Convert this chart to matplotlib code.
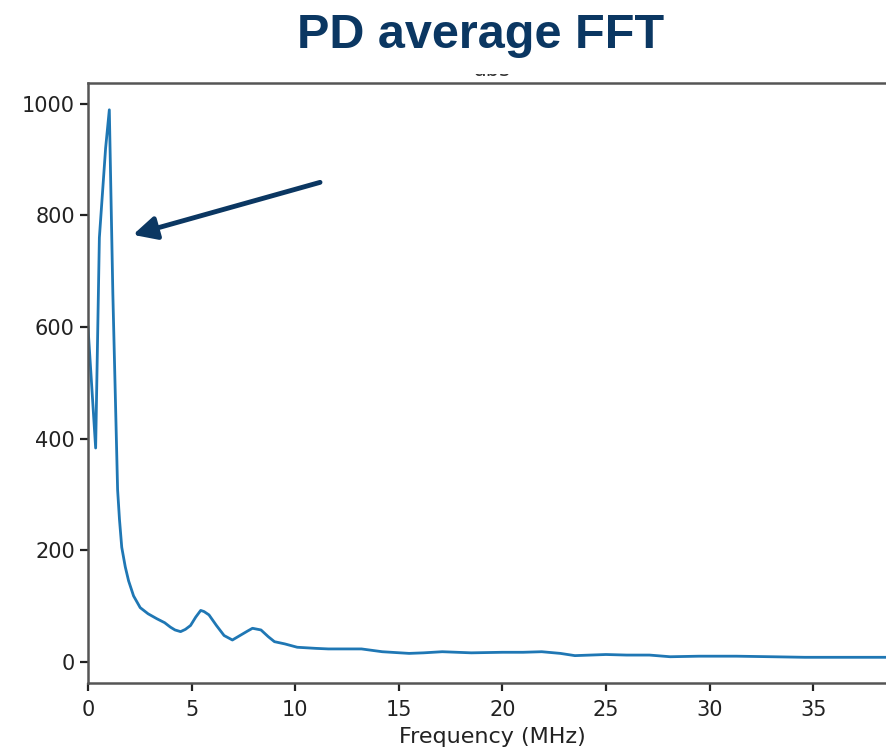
import matplotlib
matplotlib.use("Agg")
from matplotlib import pyplot as plt

# PD average FFT
freq = [0, 0.37, 0.55, 0.7, 0.85, 1.03, 1.2, 1.43, 1.52, 1.63, 1.8, 1.96,
        2.2, 2.52, 2.9, 3.33, 3.7, 3.98, 4.2, 4.47, 4.7, 4.95, 5.2, 5.44, 5.6,
        5.84, 6.2, 6.57, 6.97, 7.38, 7.7, 7.94, 8.35, 8.7, 9.0, 9.5, 10.1, 11.0,
        11.6, 12.5, 13.2, 14.2, 15.5, 16.2, 17.1, 18.5, 20.0, 21.0, 21.9, 22.8,
        23.5, 25.0, 26.0, 27.1, 28.1, 29.5, 31.3, 33.0, 34.6, 36.5, 38.7, 40.0]
amplitude = [600, 383, 760, 840, 920, 989, 660, 308, 255, 205, 170, 145,
             118, 97, 86, 77, 70, 62, 57, 54, 58, 65, 80, 92, 90,
             84, 65, 47, 39, 48, 55, 60, 57, 45, 36, 32, 26, 24,
             23, 23, 23, 18, 15, 16, 18, 16, 17, 17, 18, 15,
             11, 13, 12, 12, 9, 10, 10, 9, 8, 8, 8, 8]

xticks = [0, 5, 10, 15, 20, 25, 30, 35]
yticks = [0, 200, 400, 600, 800, 1000]

navy = "#0b3762"

fig = plt.figure(figsize=(8.86, 7.54), dpi=100)
ax = fig.add_axes([0.0993, 0.0942, 0.912, 0.7957])

ax.plot(freq, amplitude, color="#1f77b4", linewidth=2.0)
ax.set_xlim(0, 39)
ax.set_ylim(-38, 1037)
ax.set_xticks(xticks)
ax.set_yticks(yticks)
ax.tick_params(labelsize=15, length=6, width=1.6, colors="#222222")
ax.tick_params(axis="x", pad=6)
for s in ax.spines.values():
    s.set_linewidth(1.8)
    s.set_color("#555555")
ax.set_xlabel("Frequency (MHz)", fontsize=16, labelpad=5, color="#222222")

# kleiner Titel der Originalgrafik, fast ganz verdeckt
ax.set_title("abs", fontsize=15, pad=5, color="#333333")

# großer Folientitel mit weißem Hintergrund
fig.text(0.542, 0.953, "PD average FFT", ha="center", va="center",
         fontsize=35, fontweight="bold", family="Liberation Sans", color=navy,
         bbox=dict(facecolor="white", edgecolor="none", pad=11.5))

# Pfeil auf den Peak
ax.annotate("", xy=(2.17, 765), xytext=(11.2, 859),
            arrowprops=dict(arrowstyle="-|>", color=navy, lw=3.5,
                            mutation_scale=35, shrinkA=0, shrinkB=0))

plt.savefig("out.png", dpi=100)
